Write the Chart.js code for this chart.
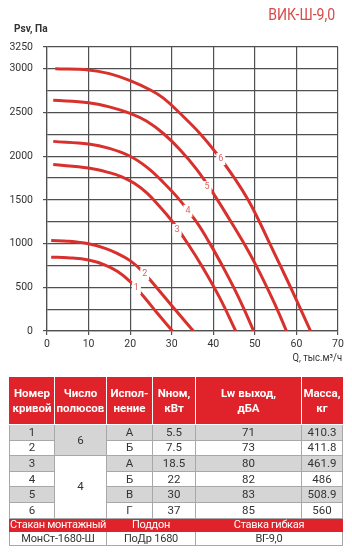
<!DOCTYPE html>
<html>
<head>
<meta charset="utf-8">
<script src="https://cdn.jsdelivr.net/npm/chart.js@4.4.1/dist/chart.umd.min.js"></script>
<style>
  body { margin: 0; background: #fff; font-family: Roboto, Arial, sans-serif; }
  #wrap { position: relative; width: 352px; height: 557px; overflow: hidden; }
  #myChart { position: absolute; left: 0; top: 0; }
  .txt { position: absolute; white-space: nowrap; color: #333; }
  #title { right: 17px; top: 5px; font-size: 16px; color: #d84a4a; transform: scaleX(0.88); transform-origin: right top; }
  #ylab { left: 14px; top: 22px; font-size: 11px; font-weight: bold; color: #333; transform: scaleX(0.92); transform-origin: left top; }
  #xlab { right: 10px; top: 351px; font-size: 10.5px; transform: scaleX(0.9); transform-origin: right top; }
  table { position: absolute; left: 9px; top: 377px; width: 333px; border-collapse: collapse; table-layout: fixed; font-size: 11.5px; color: #333; }
  td, th { text-align: center; padding: 0; border: 1px solid #a8a8a8; line-height: 13px; white-space: nowrap; }
  th { background: #e0232a; color: #fff; font-weight: bold; line-height: 15px; border: 1px solid #fff; border-top-color: #e0232a; }
  th:first-child { border-left-color: #e0232a; }
  th:last-child { border-right-color: #e0232a; }
  tr.head { height: 47px; }
  tr.row { height: 15.6px; }
  tr.grey td { background: #d5d5d5; }
  tr.sub { height: 13px; }
  tr.sub td { background: #e0232a; color: #fff; line-height: 12px; border-color: #e0232a; font-size: 11px; letter-spacing: -0.3px; }
  tr.foot { height: 13.5px; }
  tr.foot td { font-size: 11px; letter-spacing: -0.2px; }
</style>
</head>
<body>
<div id="wrap">
  <canvas id="myChart" width="352" height="362"></canvas>
  <div class="txt" id="title">ВИК-Ш-9,0</div>
  <div class="txt" id="ylab">Psv, Па</div>
  <div class="txt" id="xlab">Q, тыс.м³/ч</div>
  <table id="tbl"></table>
</div>
<script>
// curves: Q (тыс. м3/ч) and Psv (Па)
const q1 = [1, 5, 10, 14, 17, 20, 23, 26.5, 30.2];
const p1 = [845, 838, 812, 755, 680, 565, 410, 205, 0];
const q2 = [1, 5, 10, 14, 17, 20, 23, 26.5, 30.8, 35.2];
const p2 = [1035, 1028, 998, 945, 885, 805, 680, 490, 245, 0];
const q3 = [1.5, 10, 15, 18, 21, 24, 27, 30.2, 34, 37.5, 41.5, 45.4];
const p3 = [1905, 1865, 1812, 1765, 1690, 1580, 1430, 1250, 990, 725, 385, 0];
const q4 = [1.5, 10, 15, 20, 24, 28, 32, 36, 39.2, 42.2, 45, 47.4, 49.7];
const p4 = [2170, 2140, 2090, 2000, 1875, 1700, 1495, 1245, 1000, 745, 490, 250, 0];
const q5 = [1.5, 10, 15, 20, 24, 28, 32, 36, 40, 44, 47.4, 50.4, 53, 55.4, 57.6];
const p5 = [2640, 2612, 2565, 2490, 2400, 2260, 2075, 1850, 1575, 1270, 1000, 740, 490, 245, 0];
const q6 = [2, 10, 15, 20, 25, 28, 31.8, 37, 41.3, 45.1, 48.4, 51.1, 53.6, 56.1, 58.6, 61, 63.4];
const p6 = [3000, 2988, 2945, 2865, 2755, 2665, 2500, 2250, 2000, 1750, 1500, 1250, 1000, 750, 500, 250, 0];

const curveNames = ['1', '2', '3', '4', '5', '6'];
const labelQ = [21.5, 23.5, 31.3, 33.9, 38.5, 41.8];
const labelP = [490, 650, 1157, 1375, 1646, 1967];

const yLabeled = [0, 500, 1000, 1500, 2000, 2500, 3000, 3250];

// table
const tHead = [['Номер', 'кривой'], ['Число', 'полюсов'], ['Испол-', 'нение'], ['Nном,', 'кВт'], ['Lw выход,', 'дБА'], ['Масса,', 'кг']];
const tCurve = ['1', '2', '3', '4', '5', '6'];
const tPoles = ['6', '6', '4', '4', '4', '4'];
const tVersion = ['А', 'Б', 'А', 'Б', 'В', 'Г'];
const tPower = ['5.5', '7.5', '18.5', '22', '30', '37'];
const tLw = ['71', '73', '80', '82', '83', '85'];
const tMass = ['410.3', '411.8', '461.9', '486', '508.9', '560'];
const tAccTitles = ['Стакан монтажный', 'Поддон', 'Ставка гибкая'];
const tAcc = ['МонСт-1680-Ш', 'ПоДр 1680', 'ВГ-9,0'];

const font = 'Roboto, Arial, sans-serif';
const red = '#d8312d';
const gridColor = '#505050';

const allQ = [q1, q2, q3, q4, q5, q6];
const allP = [p1, p2, p3, p4, p5, p6];
const datasets = [];
for (let i = 0; i < allQ.length; i++) {
  datasets.push({
    label: curveNames[i],
    data: allQ[i].map((q, j) => ({ x: q, y: allP[i][j] })),
    borderColor: red,
    borderWidth: 3,
    pointRadius: 0,
    showLine: true,
    tension: 0.4,
    fill: false
  });
}

const curveLabels = {
  id: 'curveLabels',
  afterDatasetsDraw(chart) {
    const c = chart.ctx;
    const xs = chart.scales.x, ys = chart.scales.y;
    c.save();
    c.font = '9px ' + font;
    c.textAlign = 'center';
    c.textBaseline = 'middle';
    for (let i = 0; i < labelQ.length; i++) {
      const px = xs.getPixelForValue(labelQ[i]);
      const py = ys.getPixelForValue(labelP[i]);
      c.fillStyle = '#fff';
      c.fillRect(px - 4.5, py - 6, 9, 12);
      c.fillStyle = '#e06060';
      c.fillText(curveNames[i], px, py);
    }
    c.restore();
  }
};

new Chart(document.getElementById('myChart'), {
  type: 'scatter',
  data: { datasets: datasets },
  options: {
    responsive: false,
    animation: false,
    layout: { padding: { top: 47, right: 14, bottom: 0, left: 0 } },
    plugins: { legend: { display: false }, tooltip: { enabled: false } },
    scales: {
      x: {
        type: 'linear', min: 0, max: 70,
        afterFit: (s) => { s.height = 31; },
        ticks: { stepSize: 10, color: '#333', font: { family: font, size: 10.5 }, padding: 3 },
        grid: { color: gridColor, lineWidth: 1.2, tickLength: 4, tickColor: gridColor },
        border: { color: gridColor, width: 1.2 }
      },
      y: {
        type: 'linear', min: 0, max: 3250,
        afterFit: (s) => { s.width = 47; },
        ticks: {
          stepSize: 250, color: '#333', font: { family: font, size: 10.5 }, padding: 10,
          callback: (v) => yLabeled.includes(v) ? String(v) : ''
        },
        grid: {
          color: gridColor, lineWidth: 1.2, tickLength: 4,
          tickColor: (ctx) => (ctx.tick && yLabeled.includes(ctx.tick.value)) ? gridColor : 'rgba(0,0,0,0)'
        },
        border: { color: gridColor, width: 1.2 }
      }
    }
  },
  plugins: [curveLabels]
});

// build table
const tbl = document.getElementById('tbl');
let html = '<colgroup><col style="width:45px"><col style="width:52px"><col style="width:46px"><col style="width:43px"><col style="width:106px"><col style="width:41px"></colgroup>';
html += '<tr class="head">' + tHead.map(h => '<th>' + h[0] + '<br>' + h[1] + '</th>').join('') + '</tr>';
for (let i = 0; i < tCurve.length; i++) {
  const cls = 'row' + (i % 2 === 0 ? ' grey' : '');
  html += '<tr class="' + cls + '"><td>' + tCurve[i] + '</td>';
  if (i === 0) html += '<td rowspan="2" style="background:#d5d5d5">' + tPoles[i] + '</td>';
  if (i === 2) html += '<td rowspan="4" style="background:#fff">' + tPoles[i] + '</td>';
  html += '<td>' + tVersion[i] + '</td><td>' + tPower[i] + '</td><td>' + tLw[i] + '</td><td>' + tMass[i] + '</td></tr>';
}
html += '<tr class="sub">' + tAccTitles.map(t => '<td colspan="2">' + t + '</td>').join('') + '</tr>';
html += '<tr class="foot">' + tAcc.map(t => '<td colspan="2">' + t + '</td>').join('') + '</tr>';
tbl.innerHTML = html;
</script>
</body>
</html>
